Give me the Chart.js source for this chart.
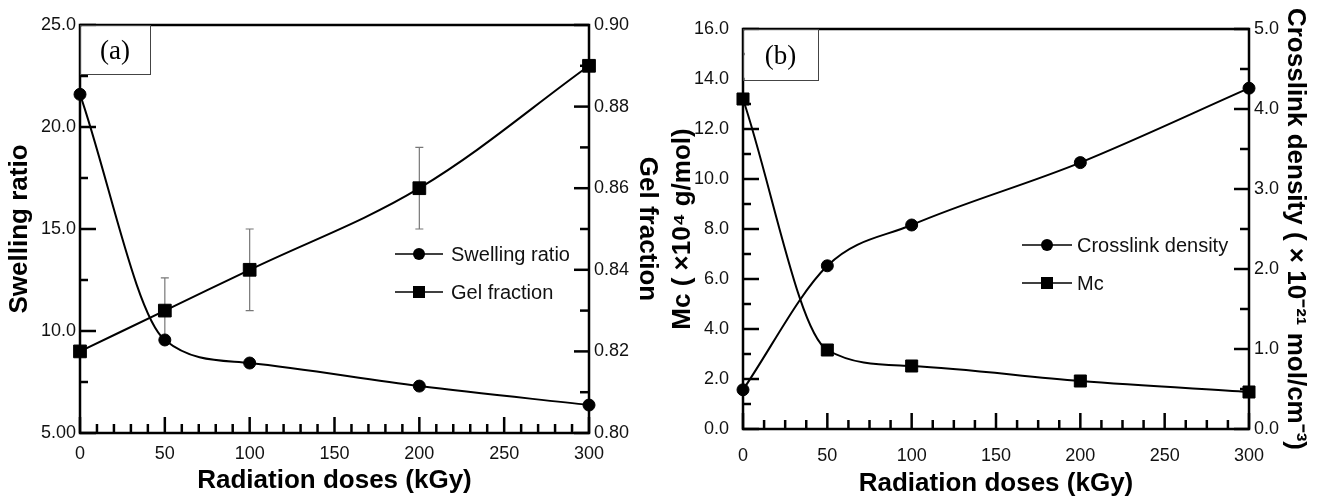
<!DOCTYPE html>
<html>
<head>
<meta charset="utf-8">
<script src="https://cdn.jsdelivr.net/npm/chart.js@4.4.1/dist/chart.umd.min.js"></script>
<style>
  html, body { margin: 0; padding: 0; background: #fff; width: 1325px; height: 497px; overflow: hidden; }
  #wrapA { position: absolute; left: 0; top: 0; width: 660px; height: 497px; }
  #wrapB { position: absolute; left: 660px; top: 0; width: 665px; height: 497px; }
</style>
</head>
<body>
<div id="wrapA"><canvas id="chartA" width="660" height="497"></canvas></div>
<div id="wrapB"><canvas id="chartB" width="665" height="497"></canvas></div>
<script>
// radiation doses (kGy)
var doses = [0, 50, 100, 200, 300];
// panel (a)
var swellingRatio = [21.6, 9.56, 8.43, 7.30, 6.37];
var gelFraction = [0.820, 0.830, 0.840, 0.860, 0.890];
var gelFractionErr = [0, 0.008, 0.010, 0.010, 0];
// panel (b)
var mc = [13.2, 3.16, 2.52, 1.92, 1.48];
var crosslinkDensity = [0.49, 2.04, 2.55, 3.33, 4.26];

// tick labels
var doseTicks = ['0', '50', '100', '150', '200', '250', '300'];
var swellingTicks = ['5.00', '10.0', '15.0', '20.0', '25.0'];
var gelTicks = ['0.80', '0.82', '0.84', '0.86', '0.88', '0.90'];
var mcTicks = ['0.0', '2.0', '4.0', '6.0', '8.0', '10.0', '12.0', '14.0', '16.0'];
var densityTicks = ['0.0', '1.0', '2.0', '3.0', '4.0', '5.0'];

Chart.defaults.font.family = "'Liberation Sans', Arial, sans-serif";
Chart.defaults.color = '#111';

function pts(ys) {
  return doses.map(function (d, i) { return { x: d, y: ys[i] }; });
}

// frame, inward ticks, error bars, legend and panel tag
var axisDecor = {
  id: 'axisDecor',
  beforeDatasetsDraw: function (chart, args, opts) {
    var ctx = chart.ctx, a = chart.chartArea;
    ctx.save();
    ctx.strokeStyle = '#000';
    ctx.lineWidth = 2.5;
    ctx.strokeRect(a.left, a.top, a.right - a.left, a.bottom - a.top);
    opts.ticks.forEach(function (t) {
      var sc = chart.scales[t.axis];
      var n = Math.round((sc.max - sc.min) / t.minor);
      for (var i = 0; i <= n; i++) {
        var v = sc.min + i * t.minor;
        var r = v / t.major;
        var len = Math.abs(r - Math.round(r)) < 1e-6 ? t.majorLen : t.minorLen;
        var p = sc.getPixelForValue(v);
        ctx.beginPath();
        if (t.axis === 'x') { ctx.moveTo(p, a.bottom); ctx.lineTo(p, a.bottom - len); }
        else if (sc.position === 'left') { ctx.moveTo(a.left, p); ctx.lineTo(a.left + len, p); }
        else { ctx.moveTo(a.right, p); ctx.lineTo(a.right - len, p); }
        ctx.stroke();
      }
    });
    if (opts.errors) {
      var e = opts.errors;
      var ds = chart.data.datasets[e.dataset];
      var ys = chart.scales[ds.yAxisID];
      var meta = chart.getDatasetMeta(e.dataset);
      ctx.strokeStyle = '#777';
      ctx.lineWidth = 1.2;
      ds.data.forEach(function (d, i) {
        var err = e.values[i];
        if (!err) return;
        var x = meta.data[i].x;
        var y1 = ys.getPixelForValue(d.y + err), y2 = ys.getPixelForValue(d.y - err);
        ctx.beginPath();
        ctx.moveTo(x, y1); ctx.lineTo(x, y2);
        ctx.moveTo(x - 4, y1); ctx.lineTo(x + 4, y1);
        ctx.moveTo(x - 4, y2); ctx.lineTo(x + 4, y2);
        ctx.stroke();
      });
    }
    ctx.restore();
  },
  afterDraw: function (chart, args, opts) {
    var ctx = chart.ctx, a = chart.chartArea;
    ctx.save();
    // panel tag
    var tg = opts.tag;
    ctx.fillStyle = '#fff';
    ctx.fillRect(a.left + 1.5, a.top + 1.5, tg.w - 1.5, tg.h - 1.5);
    ctx.strokeStyle = '#444';
    ctx.lineWidth = 1;
    ctx.strokeRect(a.left + 0.5, a.top + 0.5, tg.w, tg.h);
    ctx.fillStyle = '#000';
    ctx.font = "27px 'Liberation Serif', 'Times New Roman', serif";
    ctx.textAlign = 'center';
    ctx.textBaseline = 'middle';
    ctx.fillText(tg.text, a.left + tg.w / 2, a.top + tg.h / 2 + 2);
    // legend
    var lg = opts.legend;
    ctx.font = "20px 'Liberation Sans', Arial, sans-serif";
    ctx.textAlign = 'left';
    lg.items.forEach(function (idx, k) {
      var ds = chart.data.datasets[idx];
      var y = lg.y + k * lg.gap;
      var xm = (lg.x1 + lg.x2) / 2;
      ctx.strokeStyle = '#000';
      ctx.lineWidth = 1.5;
      ctx.beginPath();
      ctx.moveTo(lg.x1, y); ctx.lineTo(lg.x2, y);
      ctx.stroke();
      ctx.fillStyle = '#000';
      ctx.beginPath();
      if (ds.pointStyle === 'rect') {
        ctx.rect(xm - 6, y - 6, 12, 12);
      } else {
        ctx.arc(xm, y, 6, 0, Math.PI * 2);
      }
      ctx.fill();
      ctx.fillStyle = '#111';
      ctx.fillText(ds.label, lg.tx, y + 1);
    });
    ctx.restore();
  }
};

function linScale(pos, min, max, labels, size, pad, title, titlePad) {
  return {
    type: 'linear', position: pos, min: min, max: max,
    afterBuildTicks: function (s) {
      s.ticks = labels.map(function (t) { return { value: parseFloat(t) }; });
    },
    afterFit: function (s) {
      if (pos === 'bottom') s.height = size; else s.width = size;
    },
    ticks: {
      autoSkip: false, maxRotation: 0, padding: pad, color: '#111',
      font: { size: 18 },
      callback: function (v, i) { return labels[i]; }
    },
    grid: { display: false, drawTicks: false },
    border: { display: false },
    title: {
      display: true, text: title, color: '#000',
      font: { size: 26, weight: 'bold', lineHeight: 1 },
      padding: titlePad
    }
  };
}

function lineSet(label, ys, axis, style, radius, tension) {
  var ds = {
    label: label,
    data: pts(ys),
    yAxisID: axis,
    borderColor: '#000',
    borderWidth: 2,
    backgroundColor: '#000',
    pointBackgroundColor: '#000',
    pointBorderColor: '#000',
    pointBorderWidth: 1,
    pointStyle: style,
    pointRadius: radius,
    fill: false,
    clip: false
  };
  if (tension) ds.tension = tension;
  else ds.cubicInterpolationMode = 'monotone';
  return ds;
}

var commonOpts = {
  responsive: false,
  animation: false,
  devicePixelRatio: 1,
  plugins: { legend: { display: false }, tooltip: { enabled: false } }
};

new Chart(document.getElementById('chartA'), {
  type: 'line',
  data: {
    datasets: [
      lineSet('Swelling ratio', swellingRatio, 'y', 'circle', 6),
      lineSet('Gel fraction', gelFraction, 'y1', 'rect', 9, 0.35)
    ]
  },
  options: Object.assign({}, commonOpts, {
    layout: { padding: { top: 25 } },
    scales: {
      x: linScale('bottom', 0, 300, doseTicks, 64, 10, 'Radiation doses (kGy)', { top: 0, bottom: 3 }),
      y: linScale('left', 5, 25, swellingTicks, 80, 4, 'Swelling ratio', { top: 7 }),
      y1: linScale('right', 0.80, 0.90, gelTicks, 71, 5, 'Gel fraction', { top: 0 })
    },
    plugins: Object.assign({}, commonOpts.plugins, {
      axisDecor: {
        ticks: [
          { axis: 'x', major: 50, minor: 10, majorLen: 16, minorLen: 9 },
          { axis: 'y', major: 5, minor: 2.5, majorLen: 16, minorLen: 8 },
          { axis: 'y1', major: 0.02, minor: 0.01, majorLen: 15, minorLen: 9 }
        ],
        errors: { dataset: 1, values: gelFractionErr },
        tag: { text: '(a)', w: 70, h: 49 },
        legend: { items: [0, 1], x1: 395, x2: 443, tx: 451, y: 254, gap: 38 }
      }
    })
  }),
  plugins: [axisDecor]
});

new Chart(document.getElementById('chartB'), {
  type: 'line',
  data: {
    datasets: [
      lineSet('Crosslink density', crosslinkDensity, 'y1', 'circle', 6),
      lineSet('Mc', mc, 'y', 'rect', 8.5)
    ]
  },
  options: Object.assign({}, commonOpts, {
    layout: { padding: { top: 29 } },
    scales: {
      x: linScale('bottom', 0, 300, doseTicks, 68, 16, 'Radiation doses (kGy)', { top: 0, bottom: 0 }),
      y: linScale('left', 0, 16, mcTicks, 83, 14, 'Mc ( \u00d710\u2074 g/mol)', { top: 10 }),
      y1: linScale('right', 0, 5, densityTicks, 76, 5, 'Crosslink density ( \u00d7 10\u207b\u00b2\u00b9 mol/cm\u207b\u00b3)', { top: 17 })
    },
    plugins: Object.assign({}, commonOpts.plugins, {
      axisDecor: {
        ticks: [
          { axis: 'x', major: 50, minor: 12.5, majorLen: 16, minorLen: 9 },
          { axis: 'y', major: 2, minor: 1, majorLen: 16, minorLen: 8 },
          { axis: 'y1', major: 1, minor: 0.5, majorLen: 15, minorLen: 9 }
        ],
        tag: { text: '(b)', w: 75, h: 51 },
        legend: { items: [0, 1], x1: 362, x2: 412, tx: 417, y: 245, gap: 38 }
      }
    })
  }),
  plugins: [axisDecor]
});
</script>
</body>
</html>
